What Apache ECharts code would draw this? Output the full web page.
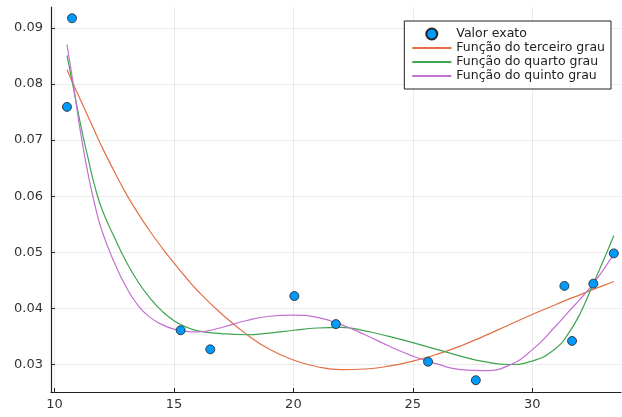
<!DOCTYPE html>
<html>
<head>
<meta charset="utf-8">
<script src="https://cdn.jsdelivr.net/npm/echarts@6/dist/echarts.min.js"></script>
<style>
  html, body { margin: 0; padding: 0; background: #fff; }
  #chart { width: 622px; height: 417px; }
</style>
</head>
<body>
<div id="chart"></div>
<script>
// pontos medidos
const pontosX = [10.52, 10.73, 15.28, 16.52, 20.04, 21.78, 25.64, 27.64, 31.35, 31.67, 32.56, 33.42]
const pontosY = [0.0759, 0.0917, 0.0361, 0.0327, 0.0422, 0.0372, 0.0305, 0.0272, 0.0440, 0.0342, 0.0444, 0.0498]

// curvas
const gradeX = [10.52, 10.8, 11.1, 11.4, 11.7, 12, 12.5, 13, 13.5, 14, 14.5, 15, 15.5, 16, 17, 18, 19, 20, 21, 22, 23, 24, 25, 26, 27, 28, 29, 30, 31, 31.5, 32, 32.5, 33, 33.42]
const terceiroY = [0.0825, 0.0798, 0.0770, 0.0742, 0.0714, 0.0686, 0.0644, 0.0604, 0.0569, 0.0537, 0.0508, 0.0481, 0.0455, 0.0431, 0.0390, 0.0355, 0.0327, 0.0308, 0.0296, 0.0291, 0.0292, 0.0297, 0.0306, 0.0318, 0.0333, 0.0351, 0.0370, 0.0389, 0.0407, 0.0416, 0.0424, 0.0433, 0.0441, 0.0448]
const quartoY = [0.0851, 0.0790, 0.0725, 0.0668, 0.0615, 0.0575, 0.0527, 0.0483, 0.0447, 0.0418, 0.0395, 0.0378, 0.0367, 0.0360, 0.0355, 0.0353, 0.0356, 0.0361, 0.0365, 0.0366, 0.0360, 0.0350, 0.0339, 0.0327, 0.0315, 0.0305, 0.0300, 0.0306, 0.0329, 0.0354, 0.0390, 0.0438, 0.0487, 0.0530]
const quintoY = [0.0870, 0.0795, 0.0710, 0.0640, 0.0582, 0.0536, 0.0482, 0.0438, 0.0405, 0.0384, 0.0371, 0.0363, 0.0359, 0.0358, 0.0366, 0.0378, 0.0386, 0.0388, 0.0384, 0.0371, 0.0353, 0.0333, 0.0315, 0.0301, 0.0291, 0.0289, 0.0298, 0.0326, 0.0369, 0.0393, 0.0416, 0.0441, 0.0470, 0.0497]

const xTicks = [10, 15, 20, 25, 30]
const yTicks = [0.03, 0.04, 0.05, 0.06, 0.07, 0.08, 0.09]

const pares = (xs, ys) => xs.map((x, i) => [x, ys[i]])

const chart = echarts.init(document.getElementById('chart'))

const eixo = {
  axisLine: { show: true, onZero: false, lineStyle: { color: '#222', width: 1.2 } },
  splitLine: { show: true, lineStyle: { color: 'rgba(0,0,0,0.08)', width: 1 } },
}

const linha = (name, color, ys) => ({
  name: name,
  type: 'line',
  data: pares(gradeX, ys),
  smooth: true,
  symbol: 'none',
  lineStyle: { color: color, width: 1.2 },
  itemStyle: { color: color },
  z: 2
})

// sem bolinha no meio da linha da legenda
const semSimbolo = { color: 'rgba(0,0,0,0)', borderWidth: 0 }

const option = {
  animation: false,
  backgroundColor: '#fff',
  textStyle: { fontFamily: 'DejaVu Sans' },
  grid: { left: 51, right: 1, top: 7, bottom: 25 },
  legend: {
    right: 11,
    top: 21,
    orient: 'vertical',
    padding: [6, 6, 6, 7],
    itemGap: 0,
    itemWidth: 39,
    itemHeight: 11,
    borderColor: '#222',
    borderWidth: 1,
    backgroundColor: '#fff',
    textStyle: { fontSize: 12.5, color: '#222', lineHeight: 14, fontFamily: 'DejaVu Sans' },
    data: [
      { name: 'Valor exato' },
      { name: 'Função do terceiro grau', itemStyle: semSimbolo },
      { name: 'Função do quarto grau', itemStyle: semSimbolo },
      { name: 'Função do quinto grau', itemStyle: semSimbolo }
    ]
  },
  xAxis: {
    type: 'value',
    min: 9.85,
    max: 33.72,
    ...eixo,
    axisTick: { show: true, inside: true, length: 4, customValues: xTicks, lineStyle: { color: '#222' } },
    axisLabel: { customValues: xTicks, fontSize: 13, color: '#333', margin: 6 }
  },
  yAxis: {
    type: 'value',
    min: 0.0251,
    max: 0.0937,
    ...eixo,
    axisTick: { show: true, inside: true, length: 4, customValues: yTicks, lineStyle: { color: '#222' } },
    axisLabel: { customValues: yTicks, fontSize: 13, color: '#333', margin: 8, formatter: v => v.toFixed(2) }
  },
  series: [
    {
      name: 'Valor exato',
      type: 'scatter',
      data: pares(pontosX, pontosY),
      symbolSize: 9,
      itemStyle: { color: '#009AFA', borderColor: '#222', borderWidth: 0.8, opacity: 1 },
      z: 3
    },
    linha('Função do terceiro grau', '#E36F47', terceiroY),
    linha('Função do quarto grau', '#3EA44E', quartoY),
    linha('Função do quinto grau', '#C371D2', quintoY)
  ]
}

chart.setOption(option)
</script>
</body>
</html>
